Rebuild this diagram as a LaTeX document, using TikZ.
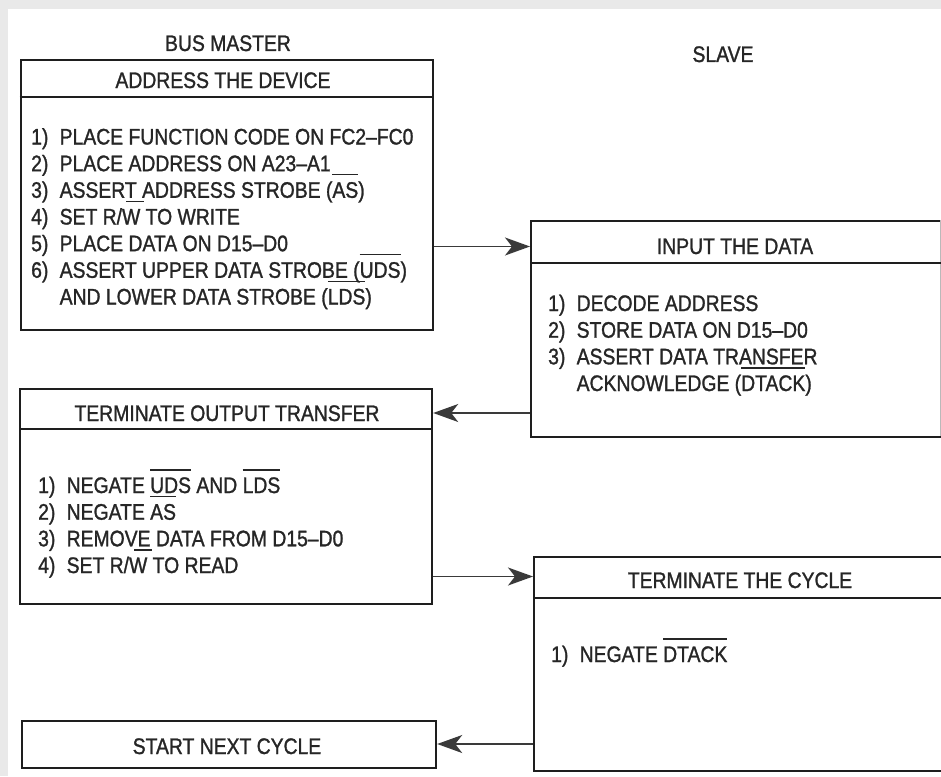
\documentclass[tikz,border=0pt]{standalone}
\usepackage{fontspec}
\setmainfont{Liberation Sans}[FakeStretch=0.86,FakeBold=1.2]
\usetikzlibrary{arrows.meta}
\definecolor{txtc}{HTML}{262626}
\definecolor{linec}{HTML}{1E1E1E}
\definecolor{conc}{HTML}{3A3A3A}
\definecolor{bgc}{HTML}{E9E9E9}
\newcommand\nm[1]{\makebox[28.5pt][l]{#1}}
\newcommand\obar[2][0pt]{\leavevmode\setbox0\hbox{#2}\rlap{\kern#1\rule[22.5pt]{\wd0}{1.3pt}}\box0{}}
\begin{document}
\begin{tikzpicture}[x=1pt,y=-1pt,
  box/.style={draw=linec, line width=2.2pt, anchor=north west, inner sep=0pt},
  divl/.style={draw=linec, line width=2.2pt},
  con/.style={draw=conc, line width=1.3pt, -{Stealth[length=25pt,width=18pt,inset=7pt]}},
  txt/.style={anchor=base west, inner sep=0pt, text=txtc, font=\fontsize{22.5}{26.67}\selectfont},
  hdr/.style={anchor=base, inner sep=0pt, text=txtc, font=\fontsize{22.5}{26.67}\selectfont}]
\useasboundingbox (0,0) rectangle (941,776);
\clip (0,0) rectangle (941,776);
\fill[bgc] (0,0) rectangle (941,776);
\fill[white] (8,9) rectangle (941,776);

% boxes
\node[box, minimum width=412pt, minimum height=270pt] (b1) at (19.5,59) {};
\node[box, minimum width=420pt, minimum height=216pt] (b2) at (530,220) {};
\node[box, minimum width=412pt, minimum height=215pt] (b3) at (19,388) {};
\node[box, minimum width=417pt, minimum height=214pt] (b4) at (533,556) {};
\node[box, minimum width=414pt, minimum height=47pt] (b5) at (21,720) {};
\draw[gray!55, line width=0.7pt] (940.3,220) -- (940.3,436);

% header dividers
\draw[divl] (b1.west |- 0,97) -- (b1.east |- 0,97);
\draw[divl] (b2.west |- 0,263) -- (b2.east |- 0,263);
\draw[divl] (b3.west |- 0,429) -- (b3.east |- 0,429);
\draw[divl] (b4.west |- 0,598) -- (b4.east |- 0,598);

% column titles
\node[hdr] (tm) at (228,51) {BUS MASTER};
\node[hdr] (ts) at (723,62) {SLAVE};

% box 1
\node[hdr] (h1) at (223,88) {ADDRESS THE DEVICE};
\node[txt] (l11) at (31,144.5) {\nm{1)}PLACE FUNCTION CODE ON FC2–FC0};
\node[txt] (l12) at (31,171.2) {\nm{2)}PLACE ADDRESS ON A23–A1};
\node[txt] (l13) at (31,197.8) {\nm{3)}ASSERT ADDRESS STROBE (\obar{AS})};
\node[txt] (l14) at (31,224.5) {\nm{4)}SET R/\obar[4pt]{W} TO WRITE};
\node[txt] (l15) at (31,251.2) {\nm{5)}PLACE DATA ON D15–D0};
\node[txt] (l16) at (31,277.8) {\nm{6)}ASSERT UPPER DATA STROBE (\obar{UDS})};
\node[txt] (l17) at (31,304.5) {\nm{}AND LOWER DATA STROBE (\obar{LDS})};

% box 2
\node[hdr] (h2) at (735,254) {INPUT THE DATA};
\node[txt] (l21) at (548,311) {\nm{1)}DECODE ADDRESS};
\node[txt] (l22) at (548,337.7) {\nm{2)}STORE DATA ON D15–D0};
\node[txt] (l23) at (548,364.3) {\nm{3)}ASSERT DATA TRANSFER};
\node[txt] (l24) at (548,391) {\nm{}ACKNOWLEDGE (\obar{DTACK})};

% box 3
\node[hdr] (h3) at (227,421) {TERMINATE OUTPUT TRANSFER};
\node[txt] (l31) at (38,493) {\nm{1)}NEGATE \obar{UDS} AND \obar{LDS}};
\node[txt] (l32) at (38,519.7) {\nm{2)}NEGATE \obar{AS}};
\node[txt] (l33) at (38,546.3) {\nm{3)}REMOVE DATA FROM D15–D0};
\node[txt] (l34) at (38,573) {\nm{4)}SET R/\obar[5pt]{W} TO READ};

% box 4
\node[hdr] (h4) at (740,588) {TERMINATE THE CYCLE};
\node[txt] (l41) at (551,662) {\nm{1)}NEGATE \obar{DTACK}};

% box 5
\node[hdr] (h5) at (227,754) {START NEXT CYCLE};

% connectors
\coordinate (y1) at (0,246.5);
\coordinate (y2) at (0,413);
\coordinate (y3) at (0,576.5);
\coordinate (y4) at (0,744);
\draw[con] (b1.east |- y1) -- (b2.west |- y1);
\draw[con] (b2.west |- y2) -- (b3.east |- y2);
\draw[con] (b3.east |- y3) -- (b4.west |- y3);
\draw[con] (b4.west |- y4) -- (b5.east |- y4);
\end{tikzpicture}
\end{document}
